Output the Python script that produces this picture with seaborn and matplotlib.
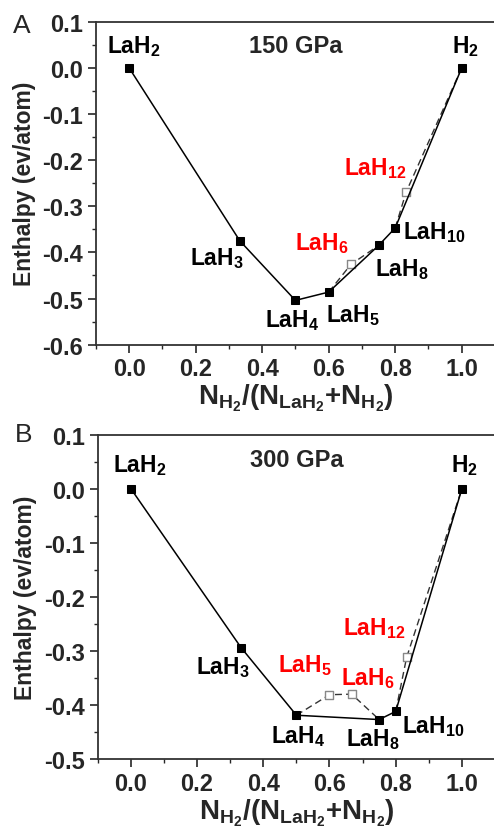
import matplotlib
matplotlib.use("Agg")
import matplotlib.pyplot as plt
import seaborn as sns
from matplotlib.ticker import MultipleLocator

# ---- data ----
# Panel A, 150 GPa
a_hull_x = [0.0, 0.333, 0.5, 0.6, 0.75, 0.8, 1.0]
a_hull_y = [0.0, -0.375, -0.504, -0.486, -0.385, -0.347, 0.0]
a_open_x = [0.667, 0.833]
a_open_y = [-0.426, -0.269]
a_dash_segments = [([0.6, 0.667, 0.75], [-0.486, -0.426, -0.385]),
                   ([0.8, 0.833, 1.0], [-0.347, -0.269, 0.0])]
# Panel B, 300 GPa
b_hull_x = [0.0, 0.333, 0.5, 0.75, 0.8, 1.0]
b_hull_y = [0.0, -0.294, -0.419, -0.427, -0.412, 0.0]
b_open_x = [0.6, 0.667, 0.833]
b_open_y = [-0.381, -0.380, -0.312]
b_dash_segments = [([0.5, 0.6, 0.667, 0.75], [-0.419, -0.381, -0.380, -0.427]),
                   ([0.8, 0.833, 1.0], [-0.412, -0.312, 0.0])]

# labels: (text, x_left, y_baseline, color)
a_labels = [("LaH$_{2}$", -0.065, 0.034, "black"),
            ("H$_{2}$", 0.97, 0.034, "black"),
            ("LaH$_{3}$", 0.184, -0.426, "black"),
            ("LaH$_{4}$", 0.408, -0.559, "black"),
            ("LaH$_{5}$", 0.591, -0.549, "black"),
            ("LaH$_{6}$", 0.498, -0.392, "red"),
            ("LaH$_{8}$", 0.739, -0.449, "black"),
            ("LaH$_{10}$", 0.824, -0.370, "black"),
            ("LaH$_{12}$", 0.646, -0.230, "red")]
b_labels = [("LaH$_{2}$", -0.055, 0.033, "black"),
            ("H$_{2}$", 0.968, 0.033, "black"),
            ("LaH$_{3}$", 0.197, -0.341, "black"),
            ("LaH$_{4}$", 0.423, -0.469, "black"),
            ("LaH$_{8}$", 0.649, -0.475, "black"),
            ("LaH$_{10}$", 0.819, -0.451, "black"),
            ("LaH$_{5}$", 0.445, -0.338, "red"),
            ("LaH$_{6}$", 0.634, -0.361, "red"),
            ("LaH$_{12}$", 0.640, -0.269, "red")]

x_ticks = [0.0, 0.2, 0.4, 0.6, 0.8, 1.0]
a_y_ticks = [0.1, 0.0, -0.1, -0.2, -0.3, -0.4, -0.5, -0.6]
b_y_ticks = [0.1, 0.0, -0.1, -0.2, -0.3, -0.4, -0.5]

sns.set_style("ticks")
plt.rcParams['font.family'] = ['Liberation Sans', 'DejaVu Sans']
plt.rcParams['font.weight'] = 'bold'
plt.rcParams['mathtext.fontset'] = 'custom'
plt.rcParams['mathtext.rm'] = 'Liberation Sans:bold'
plt.rcParams['mathtext.bf'] = 'Liberation Sans:bold'
plt.rcParams['mathtext.it'] = 'Liberation Sans:bold'
plt.rcParams['mathtext.default'] = 'bf'

fig = plt.figure(figsize=(4.94, 8.28), dpi=100)
axA = fig.add_axes([0.194, 0.5825, 0.808, 0.3901])
axB = fig.add_axes([0.198, 0.0821, 0.804, 0.3917])


def draw(ax, hx, hy, ox, oy, segs, labels, yticks, ylim, title, letter, letter_y):
    for sx, sy in segs:
        sns.lineplot(x=sx, y=sy, ax=ax, color="#333333", lw=1.0, linestyle=(0, (5, 3)),
                     sort=False, estimator=None)
    sns.scatterplot(x=ox, y=oy, ax=ax, marker='s', color='white', edgecolor='#888888',
                    linewidth=1.0, s=28, zorder=3)
    sns.lineplot(x=hx, y=hy, ax=ax, color='black', lw=1.1, marker='s', markersize=5.5,
                 markeredgecolor='black', sort=False, estimator=None, zorder=4)
    for t, x, y, c in labels:
        ax.text(x, y, t, color=c, fontsize=16.5, fontweight='bold', ha='left', va='baseline')
    ax.text(0.5, title[1], title[0], fontsize=17, fontweight='bold', ha='center', va='baseline')
    ax.set_xlim(-0.1, 1.1)
    ax.set_ylim(*ylim)
    ax.set_xticks(x_ticks)
    ax.set_xticklabels([f"{v:.1f}" for v in x_ticks])
    ax.set_yticks(yticks)
    ax.set_yticklabels([f"{v:.1f}" for v in yticks])
    ax.xaxis.set_minor_locator(MultipleLocator(0.1))
    ax.yaxis.set_minor_locator(MultipleLocator(0.05))
    ax.tick_params(which='major', direction='out', length=6, width=1.2, labelsize=17, pad=3)
    ax.tick_params(which='minor', direction='out', length=3, width=1.0)
    for lab in ax.get_xticklabels() + ax.get_yticklabels():
        lab.set_fontweight('bold')
    for s in ['left', 'bottom', 'top']:
        ax.spines[s].set_linewidth(1.3)
        ax.spines[s].set_color('#333333')
    ax.spines['right'].set_visible(False)
    ax.set_ylabel("Enthalpy (ev/atom)", fontsize=16.5, fontweight='bold', labelpad=5)
    ax.set_xlabel(r"$\mathbf{N}_{\mathbf{H_2}}\mathbf{/(N}_{\mathbf{LaH_2}}\mathbf{+N}_{\mathbf{H_2}}\mathbf{)}$",
                  fontsize=20, labelpad=1)
    ax.text(-0.208, letter_y, letter, transform=ax.transAxes, fontsize=19, fontweight='normal',
            ha='left', va='baseline')


draw(axA, a_hull_x, a_hull_y, a_open_x, a_open_y, a_dash_segments, a_labels,
     a_y_ticks, (-0.6, 0.1), ("150 GPa", 0.034), "A", 0.968)
draw(axB, b_hull_x, b_hull_y, b_open_x, b_open_y, b_dash_segments, b_labels,
     b_y_ticks, (-0.5, 0.1), ("300 GPa", 0.043), "B", 0.981)

fig.savefig("out.png", dpi=100)
